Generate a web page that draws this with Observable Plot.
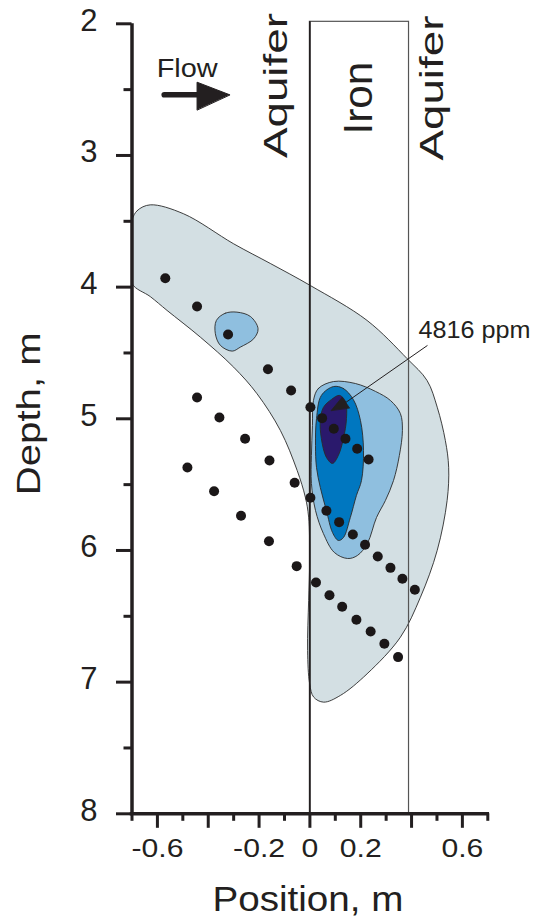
<!DOCTYPE html>
<html>
<head>
<meta charset="utf-8">
<script src="https://cdn.jsdelivr.net/npm/d3@7"></script>
<script src="https://cdn.jsdelivr.net/npm/@observablehq/plot@0.6"></script>
<style>
  html, body { margin: 0; padding: 0; background: #fff; }
  #chart svg { display: block; }
</style>
</head>
<body>
<div id="chart"></div>
<script>
// ---------- data (position in m, depth in m) ----------
const xMajorTicks = [-0.6, -0.4, -0.2, 0, 0.2, 0.4, 0.6];
const xMinorTicks = [-0.7, -0.5, -0.3, -0.1, 0.1, 0.3, 0.5, 0.7];
const xLabelTicks = [-0.6, -0.2, 0, 0.2, 0.6];
const xTickLabels = ["-0.6", "-0.2", "0", "0.2", "0.6"];
const yTicks = [2, 3, 4, 5, 6, 7, 8];
const yMinorTicks = [2.5, 3.5, 4.5, 5.5, 6.5, 7.5];
const yTickLabels = ["2", "3", "4", "5", "6", "7", "8"];

// sampling points (three slanted rows)
const row1 = [[-0.569,3.932],[-0.444,4.147],[-0.322,4.360],[-0.165,4.623],[-0.074,4.785],[0.002,4.912],[0.048,4.995],[0.094,5.076],[0.140,5.152],[0.186,5.228],[0.231,5.309]];
const row2 = [[-0.444,4.838],[-0.356,4.990],[-0.255,5.152],[-0.159,5.317],[-0.060,5.486],[0.002,5.600],[0.065,5.699],[0.115,5.785],[0.169,5.879],[0.217,5.957],[0.267,6.046],[0.317,6.132],[0.364,6.215],[0.413,6.299]];
const row3 = [[-0.482,5.370],[-0.377,5.550],[-0.271,5.737],[-0.161,5.930],[-0.052,6.119],[0.024,6.243],[0.077,6.340],[0.127,6.428],[0.183,6.526],[0.239,6.615],[0.293,6.709],[0.347,6.810]];

// concentration contours (outlines)
const contourOuter = [[-0.700,3.494],[-0.679,3.418],[-0.628,3.375],[-0.497,3.443],[-0.300,3.671],[-0.156,3.820],[0.002,3.988],[0.225,4.253],[0.383,4.544],[0.461,4.709],[0.501,4.912],[0.533,5.165],[0.546,5.368],[0.540,5.620],[0.501,5.999],[0.435,6.355],[0.356,6.659],[0.225,6.937],[0.120,7.101],[0.054,7.152],[0.015,7.114],[-0.001,7.012],[-0.009,6.760],[-0.005,6.380],[-0.001,6.076],[-0.005,5.747],[-0.018,5.595],[-0.050,5.393],[-0.116,5.089],[-0.208,4.810],[-0.300,4.608],[-0.431,4.380],[-0.562,4.177],[-0.628,4.072],[-0.700,3.972],[-0.700,3.730]];
const contourIsland = [[-0.368,4.253],[-0.333,4.198],[-0.287,4.190],[-0.234,4.223],[-0.204,4.316],[-0.221,4.392],[-0.274,4.456],[-0.306,4.486],[-0.352,4.443],[-0.372,4.354]];
const contourMid = [[0.014,4.861],[0.033,4.770],[0.093,4.717],[0.179,4.732],[0.258,4.792],[0.317,4.861],[0.356,4.960],[0.364,5.089],[0.352,5.279],[0.329,5.469],[0.297,5.621],[0.262,5.750],[0.226,5.947],[0.187,6.038],[0.148,6.061],[0.096,6.015],[0.053,5.871],[0.022,5.696],[0.006,5.491],[0.006,5.279],[0.010,5.051]];
const contourHigh = [[0.093,4.755],[0.132,4.770],[0.171,4.854],[0.199,5.013],[0.211,5.241],[0.203,5.469],[0.183,5.583],[0.159,5.750],[0.132,5.902],[0.112,5.924],[0.089,5.864],[0.065,5.697],[0.041,5.522],[0.026,5.370],[0.022,5.203],[0.026,4.998],[0.045,4.823]];
const contourPeak = [[0.116,4.822],[0.140,4.868],[0.144,4.997],[0.132,5.149],[0.112,5.278],[0.089,5.339],[0.065,5.293],[0.045,5.149],[0.041,5.013],[0.053,4.914],[0.085,4.853]];

// iron wall
const ironLeft = 0, ironRight = 0.39, ironTop = 1.985, ironBottom = 8;

// annotations
const flowLabel = ["Flow"];
const flowLabelPos = [-0.603, 2.4056];
const flowShaft = [[-0.573, 2.539], [-0.444, 2.539]];
const flowHead = [[-0.3157, 2.539], [-0.444, 2.4435], [-0.444, 2.653]];
const peakLabel = ["4816 ppm"];
const peakLabelPos = [0.427, 4.3848];
const peakLine = [[0.4614, 4.4445], [0.1411, 4.876]];
const peakHead = [[0.0839, 4.9365], [0.1268, 4.836], [0.1555, 4.9165]];
const aquiferLabels = ["Aquifer", "Aquifer"];
const aquiferLabelX = [-0.0917, 0.5248];
const aquiferLabelDepth = [2.469, 2.488];
const ironLabel = ["Iron"];
const ironLabelPos = [0.246, 2.564];

const pts = a => a.map(([x, d]) => ({x, d}));
const ink = "#231f20";
const fillOuter = "#d3dfe3", fillMid = "#8fbfdf", fillHigh = "#0077c0", fillPeak = "#2a196c";

const contour = (a, fill) => Plot.line(pts(a), {x: "x", y: "d", curve: "catmull-rom-closed", fill, stroke: "#2a2a2a", strokeWidth: 0.9});

const chart = Plot.plot({
  width: 533,
  height: 919,
  marginLeft: 131.5,
  marginRight: 45.7,
  marginTop: 23.3,
  marginBottom: 105.7,
  style: {fontFamily: "'Liberation Sans', Arial, sans-serif", color: ink, background: "#fff"},
  x: {domain: [-0.7, 0.7]},
  y: {domain: [2, 8], reverse: true},
  marks: [
    Plot.line(pts(contourOuter), {x: "x", y: "d", curve: "catmull-rom-closed", fill: fillOuter, stroke: "#2a2a2a", strokeWidth: 0.9, clip: true}),
    contour(contourIsland, fillMid),
    contour(contourMid, fillMid),
    contour(contourHigh, fillHigh),
    contour(contourPeak, fillPeak),
    // iron wall
    Plot.rect([{x1: ironLeft, x2: ironRight, y1: ironTop, y2: ironBottom}], {x1: "x1", x2: "x2", y1: "y1", y2: "y2", fill: "none", stroke: "#555", strokeWidth: 1.2}),
    Plot.ruleX([ironLeft], {y1: ironTop, y2: ironBottom, stroke: ink, strokeWidth: 1.8}),
    // points
    Plot.dot(pts(row1), {x: "x", y: "d", r: 5, fill: "#1b1718", stroke: "none"}),
    Plot.dot(pts(row2), {x: "x", y: "d", r: 5, fill: "#1b1718", stroke: "none"}),
    Plot.dot(pts(row3), {x: "x", y: "d", r: 5, fill: "#1b1718", stroke: "none"}),
    // peak annotation
    Plot.line(pts(peakLine), {x: "x", y: "d", stroke: ink, strokeWidth: 1}),
    Plot.line(pts(peakHead), {x: "x", y: "d", curve: "linear-closed", fill: ink, stroke: ink, strokeWidth: 0.8}),
    Plot.text(peakLabel, {x: peakLabelPos[0], y: peakLabelPos[1], textAnchor: "start", lineAnchor: "bottom", fontSize: 23, fill: ink}),
    // flow arrow
    Plot.line(pts(flowShaft), {x: "x", y: "d", stroke: ink, strokeWidth: 5.7}),
    Plot.line(pts(flowHead), {x: "x", y: "d", curve: "linear-closed", fill: ink, stroke: ink, strokeWidth: 1}),
    Plot.text(flowLabel, {x: flowLabelPos[0], y: flowLabelPos[1], textAnchor: "start", lineAnchor: "bottom", fontSize: 26, fill: ink}),
    // zone labels
    Plot.text(aquiferLabels, {x: (d, i) => aquiferLabelX[i], y: (d, i) => aquiferLabelDepth[i], text: d => d, rotate: -90, textAnchor: "middle", lineAnchor: "bottom", fontSize: 33.6, fill: ink}),
    Plot.text(ironLabel, {x: ironLabelPos[0], y: ironLabelPos[1], rotate: -90, textAnchor: "middle", lineAnchor: "bottom", fontSize: 40, fill: ink}),
    // axes
    Plot.ruleX([-0.7], {y1: 2, y2: 8, stroke: ink, strokeWidth: 3.5}),
    Plot.ruleY([8], {x1: -0.7, x2: 0.7, stroke: ink, strokeWidth: 3.5, strokeLinecap: "square"}),
    Plot.axisX(xMinorTicks, {anchor: "bottom", tickSize: 7.5, strokeWidth: 3, stroke: ink, tickFormat: () => "", label: null}),
    Plot.axisX(xMajorTicks, {anchor: "bottom", tickSize: 14.5, strokeWidth: 3, stroke: ink, tickFormat: () => "", label: null}),
    Plot.axisY(yMinorTicks, {anchor: "left", tickSize: 8, strokeWidth: 3, stroke: ink, tickFormat: () => "", label: null}),
    Plot.axisY(yTicks, {anchor: "left", tickSize: 15.5, strokeWidth: 3, stroke: ink, tickFormat: () => "", label: null}),
    Plot.text(xLabelTicks, {x: d => d, frameAnchor: "bottom", lineAnchor: "top", dy: 25, fontSize: 26, fill: ink, text: (d, i) => xTickLabels[i]}),
    Plot.text(yTicks, {y: d => d, frameAnchor: "left", textAnchor: "end", lineAnchor: "middle", dx: -34.5, dy: -3, fontSize: 31, fill: ink, text: (d, i) => yTickLabels[i]}),
    Plot.text(["Depth, m"], {frameAnchor: "left", rotate: -90, textAnchor: "middle", lineAnchor: "bottom", dx: -91.7, dy: -5, fontSize: 32.6, fill: ink}),
    Plot.text(["Position, m"], {frameAnchor: "bottom", textAnchor: "middle", lineAnchor: "bottom", dx: -2, dy: 96.7, fontSize: 35, fill: ink})
  ]
});
document.getElementById("chart").append(chart);

// widen glyphs to match the original lettering
const targetLength = {"Aquifer": 145, "Iron": 73, "Depth, m": 163, "Position, m": 191, "Flow": 61, "4816 ppm": 112};
d3.select(chart).selectAll("text").each(function() {
  const t = this.textContent;
  if (!t) return;
  let L = null;
  if (targetLength[t] != null) L = targetLength[t];
  else if (xTickLabels.includes(t)) L = this.getComputedTextLength() * 1.16;
  if (L) {
    this.setAttribute("textLength", L);
    this.setAttribute("lengthAdjust", "spacingAndGlyphs");
  }
});
</script>
</body>
</html>
